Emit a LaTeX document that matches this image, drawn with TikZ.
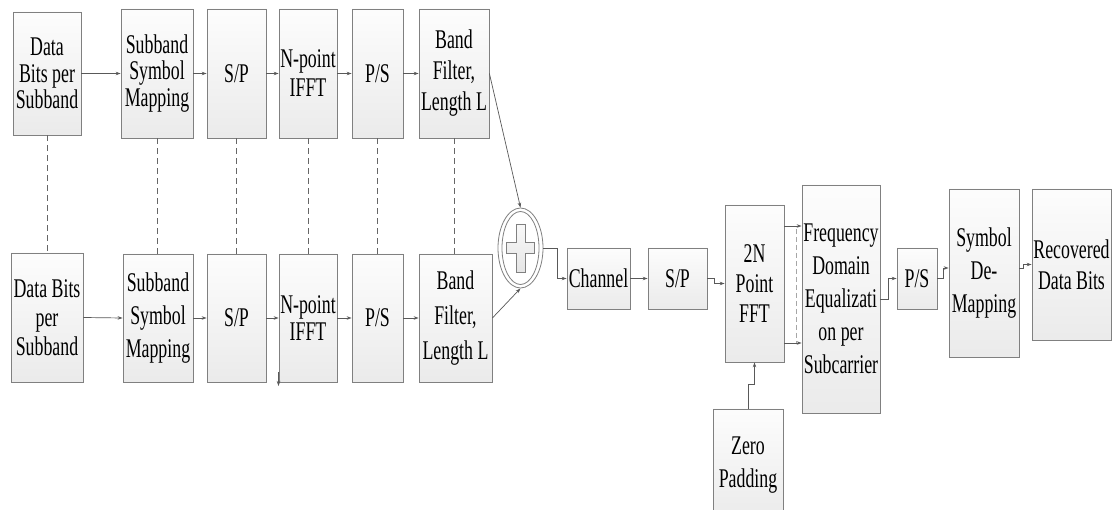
\documentclass[tikz,border=0pt]{standalone}
\usepackage{fontspec}
\setmainfont{Liberation Serif}[FakeStretch=0.66]
\usetikzlibrary{shapes.geometric,arrows.meta,calc}
\tikzset{
  blk/.style={draw=gray, line width=0.8pt, top color=gray!2, bottom color=gray!16,
              inner sep=0pt, align=center, text=black, font=\fontsize{27}{27}\selectfont},
  sz/.style 2 args={minimum width=#1pt, minimum height=#2pt},
  pitch/.style={font=\fontsize{27}{#1}\selectfont},
  arr/.style={draw=black!65, line width=0.7pt, -{Stealth[length=5pt,width=3.5pt]}},
  dsh/.style={draw=black!60, line width=0.6pt, dash pattern=on 6pt off 4pt},
  ldsh/.style={draw=black!35, line width=0.6pt, dash pattern=on 5pt off 3pt},
  ring/.style={ellipse, draw=gray, line width=0.8pt, inner sep=0pt},
  crossst/.style={draw=gray, line width=0.8pt, top color=gray!5, bottom color=gray!20},
}
\begin{document}
\begin{tikzpicture}[x=1pt,y=-1pt]
\useasboundingbox (0,0) rectangle (1114,510);
\clip (0,0) rectangle (1114,510);
\fill[white] (0,0) rectangle (1114,510);

% top row
\node[blk, sz={68}{123}, pitch=26.5] (d1) at (47,73.5) {Data\\Bits per\\Subband};
\node[blk, sz={72}{129}, pitch=26.5] (m1) at (157,73.5) {Subband\\Symbol\\Mapping};
\node[blk, sz={59}{129}] (sp1) at (236.5,73.5) {S/P};
\node[blk, sz={58}{129}, pitch=29] (if1) at (308,73.5) {N-point\\IFFT};
\node[blk, sz={51}{129}] (ps1) at (377.5,73.5) {P/S};
\node[blk, sz={70}{129}, pitch=31] (bf1) at (454,73.5) {Band\\Filter,\\Length L};

% bottom row
\node[blk, sz={72}{129}, pitch=29] (d2) at (47,317.5) {Data Bits\\per\\Subband};
\node[blk, sz={70}{128}, pitch=33] (m2) at (158,318) {Subband\\Symbol\\Mapping};
\node[blk, sz={59}{128}] (sp2) at (236.5,318) {S/P};
\node[blk, sz={58}{128}, pitch=27] (if2) at (308,318) {N-point\\IFFT};
\node[blk, sz={51}{128}] (ps2) at (377.5,318) {P/S};
\node[blk, sz={73}{128}, pitch=35] (bf2) at (455.5,318) {Band\\Filter,\\Length L};

% adder
\node[ring, minimum width=45pt, minimum height=80pt, fill=white] (adder) at (520.5,248) {};
\node[ring, minimum width=37pt, minimum height=73pt] (adderin) at (520.5,248) {};
\draw[crossst] (adder.center) ++(-4.5,-24) -- ++(9,0) -- ++(0,18.5) -- ++(9.5,0)
  -- ++(0,11) -- ++(-9.5,0) -- ++(0,18.5) -- ++(-9,0) -- ++(0,-18.5) -- ++(-9.5,0)
  -- ++(0,-11) -- ++(9.5,0) -- cycle;

% receiver chain
\node[blk, sz={63}{61}] (chan) at (598.5,278.5) {Channel};
\node[blk, sz={59}{61}] (sp3) at (677.5,278.5) {S/P};
\node[blk, sz={59}{157}, pitch=30] (fft) at (754.5,283.5) {2N\\Point\\FFT};
\node[blk, sz={78}{228}, pitch=33] (fde) at (841,299) {Frequency\\Domain\\Equalizati\\on per\\Subcarrier};
\node[blk, sz={70}{112}, pitch=33] (zero) at (748,465) {Zero\\Padding};
\node[blk, sz={40}{61}] (ps3) at (917,278.5) {P/S};
\node[blk, sz={70}{168}, pitch=33] (sym) at (984,273) {Symbol\\De-\\Mapping};
\node[blk, sz={79}{151}, pitch=31] (rec) at (1071.5,264.5) {Recovered\\Data Bits};

% top row arrows
\draw[arr] (d1.east) -- (m1.west);
\draw[arr] (m1.east) -- (sp1.west);
\draw[arr] (sp1.east) -- (if1.west);
\draw[arr] (if1.east) -- (ps1.west);
\draw[arr] (ps1.east) -- (bf1.west);

% bottom row arrows
\draw[arr] (d2.east) -- (m2.west);
\draw[arr] (m2.east) -- (sp2.west);
\draw[arr] (sp2.east) -- (if2.west);
\draw[arr] (if2.east) -- (ps2.west);
\draw[arr] (ps2.east) -- (bf2.west);
\coordinate (stubA) at (278.5,372);
\coordinate (stubB) at (278.5,386);
\draw[arr] (stubA) -- (stubB);

% dashed links between rows
\draw[dsh] (d1.south) -- (d2.north);
\draw[dsh] (m1.south) -- (m1.south |- m2.north);
\draw[dsh] (sp1.south) -- (sp2.north);
\draw[dsh] (if1.south) -- (if2.north);
\draw[dsh] (ps1.south) -- (ps2.north);
\draw[dsh] (bf1.south) -- (bf1.south |- bf2.north);

% into the adder
\draw[arr] (bf1.east) -- (adder.north);
\draw[arr] (bf2.east) -- (adder.south);
\draw[arr] (adder.east) -- ++(14,0) |- (chan.west);

% receiver arrows
\draw[arr] (chan.east) -- (sp3.west);
\draw[arr] (sp3.east) -- ++(7,0) |- (fft.west);
\coordinate (f1) at ([yshift=57.5pt]fft.east);
\coordinate (f2) at ([yshift=-59.5pt]fft.east);
\draw[arr] (f1) -- (f1 -| fde.west);
\draw[arr] (f2) -- (f2 -| fde.west);
\coordinate (q1) at (796,229);
\coordinate (q2) at (796,343);
\draw[ldsh] (q1) -- (q2);
\draw[arr] (zero.north) -- ++(0,-24) -| (fft.south);
\draw[arr] (fde.east) -- ++(8,0) |- (ps3.west);
\draw[arr] (ps3.east) -- ++(6,0) |- ([yshift=5pt]sym.west);
\draw[arr] ([yshift=5pt]sym.east) -- ++(4,0) |- (rec.west);
\end{tikzpicture}
\end{document}
